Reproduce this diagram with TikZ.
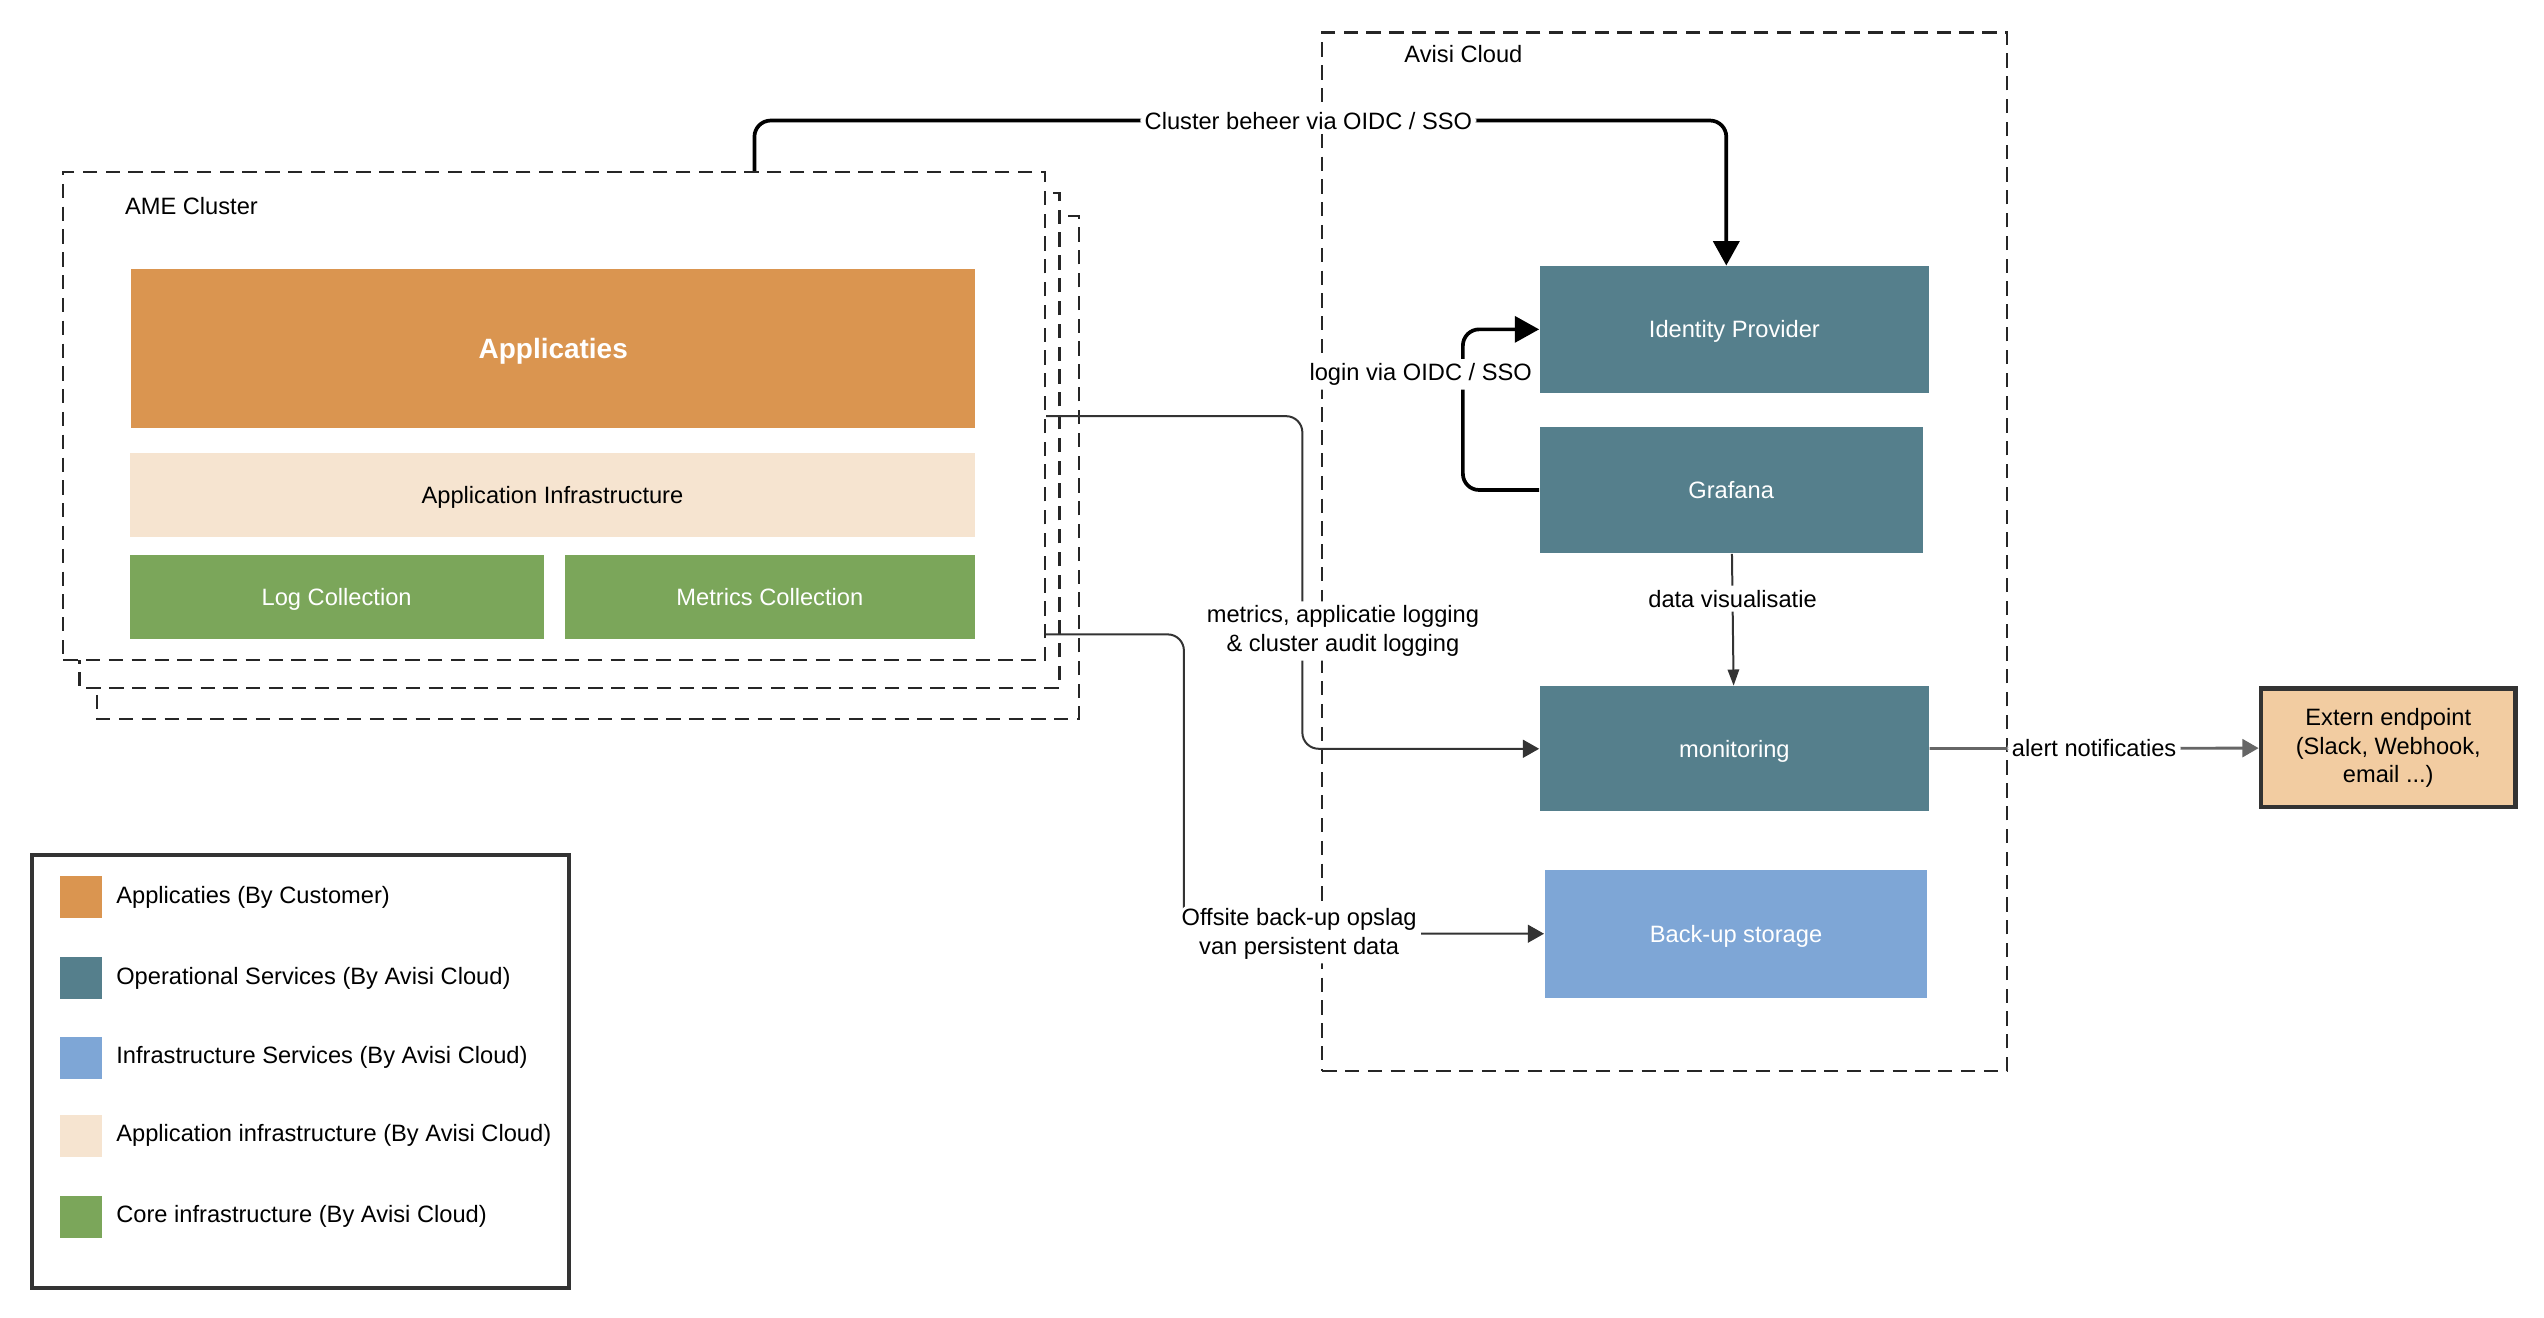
\documentclass[tikz,border=0pt]{standalone}
\usepackage{fontspec}
\setmainfont{Liberation Sans}
\usetikzlibrary{arrows.meta,positioning}

\definecolor{appOrange}{HTML}{DA9550}
\definecolor{opsTeal}{HTML}{557F8C}
\definecolor{infraBlue}{HTML}{7EA6D6}
\definecolor{appBeige}{HTML}{F6E4D0}
\definecolor{coreGreen}{HTML}{7BA65A}
\definecolor{extPeach}{HTML}{F2CCA1}

\tikzset{
  frame/.style={draw=black!85, line width=0.8pt, dash pattern=on 5pt off 3pt, inner sep=0pt},
  layer/.style={rectangle, inner sep=0pt, text=white, text depth=0pt},
  svc/.style={layer, minimum width=4.8cm, minimum height=1.56cm},
  swatch/.style={rectangle, inner sep=0pt, minimum width=0.52cm, minimum height=0.52cm},
  keytext/.style={inner sep=0pt, anchor=west},
  lbl/.style={fill=white, inner sep=1.5pt, text=black, align=center},
  heavy/.style={line width=1.3pt, rounded corners=2mm, -{Triangle[length=3mm,width=3.2mm]}},
  thinflow/.style={draw=black!80, line width=0.7pt, rounded corners=2mm, -{Triangle[length=2mm,width=2.2mm]}}
}

\begin{document}
\begin{tikzpicture}[x=0.2mm, y=-0.2mm, font=\fontsize{8.3}{10}\selectfont]
\useasboundingbox (0,0) rectangle (1568,812);

% stacked cluster frames
\draw[frame, fill=white] (60,133) rectangle (665,443);
\draw[frame, fill=white] (49,119) rectangle (653,424);
\node (ame) [frame, fill=white, minimum width=12.1cm, minimum height=6.02cm] at (341.5,256.5) {};
\node (amelbl) at (118,127) {AME Cluster};

\node (apps) [layer, fill=appOrange, minimum width=10.4cm, minimum height=1.96cm,
  font=\fontsize{9.8}{12}\selectfont\bfseries] at (341,215) {Applicaties};
\node (appinfra) [layer, fill=appBeige, text=black, minimum width=10.42cm, minimum height=1.04cm] at (340.5,305) {Application Infrastructure};
\node (logs) [layer, fill=coreGreen, minimum width=5.1cm, minimum height=1.04cm] at (207.5,368) {Log Collection};
\node (metrics) [layer, fill=coreGreen, minimum width=5.06cm, minimum height=1.04cm] at (474.5,368) {Metrics Collection};

% avisi cloud
\node (avisi) [frame, minimum width=8.44cm, minimum height=12.8cm] at (1026,340) {};
\node (avisilbl) at (902,33) {Avisi Cloud};

\node (idp) [svc, fill=opsTeal] at (1069,203) {Identity Provider};
\node (graf) [svc, fill=opsTeal, minimum width=4.72cm] at (1067,302) {Grafana};
\node (mon) [svc, fill=opsTeal, minimum height=1.54cm] at (1069,461.5) {monitoring};
\node (backup) [svc, fill=infraBlue, minimum width=4.72cm, minimum height=1.58cm] at (1070,575.5) {Back-up storage};

\node (ext) [draw=black!80, line width=1.6pt, fill=extPeach, minimum width=3.14cm, minimum height=1.46cm,
  inner sep=0pt, align=center] at (1472,461) {Extern endpoint\\(Slack, Webhook,\\email ...)};

% legend
\node (legend) [draw=black!80, line width=1.4pt, minimum width=6.62cm, minimum height=5.34cm] at (185,660.5) {};
\node (swApps) [swatch, fill=appOrange] at (50,553) {};
\node (swOps) [swatch, fill=opsTeal] at (50,603) {};
\node (swInfra) [swatch, fill=infraBlue] at (50,652) {};
\node (swAppInfra) [swatch, fill=appBeige] at (50,700) {};
\node (swCore) [swatch, fill=coreGreen] at (50,750) {};
\node (keyApps) [keytext, right=0.16cm of swApps] {Applicaties (By Customer)};
\node (keyOps) [keytext, right=0.16cm of swOps] {Operational Services (By Avisi Cloud)};
\node (keyInfra) [keytext, right=0.16cm of swInfra] {Infrastructure Services (By Avisi Cloud)};
\node (keyAppInfra) [keytext, right=0.16cm of swAppInfra] {Application infrastructure (By Avisi Cloud)};
\node (keyCore) [keytext, right=0.16cm of swCore] {Core infrastructure (By Avisi Cloud)};

% connectors
\draw[heavy] ([xshift=2.47cm]ame.north) -- ++(0,-31) -| node[lbl, pos=0.285] {Cluster beheer via OIDC / SSO} ([xshift=-0.1cm]idp.north);
\draw[heavy] (graf.west) -- ++(-47,0) |- node[lbl, pos=0.36, xshift=-0.52cm] {login via OIDC / SSO} (idp.west);
\draw[thinflow, -{Triangle[length=2mm,width=1.4mm]}] (graf) -- node[lbl, pos=0.34] {data visualisatie} (mon);
\draw[thinflow] (ame.east) -- ++(158,0) |- node[lbl, pos=0.323, xshift=0.5cm] {metrics, applicatie logging\\\& cluster audit logging} (mon.west);
\draw[thinflow] ([yshift=-2.69cm]ame.east) -- ++(85,0) |- node[lbl, pos=0.66] {Offsite back-up opslag\\van persistent data} (backup.west);
\draw[thinflow, draw=black!60, line width=1pt] (mon) -- node[lbl] {alert notificaties} (ext);
\end{tikzpicture}
\end{document}
